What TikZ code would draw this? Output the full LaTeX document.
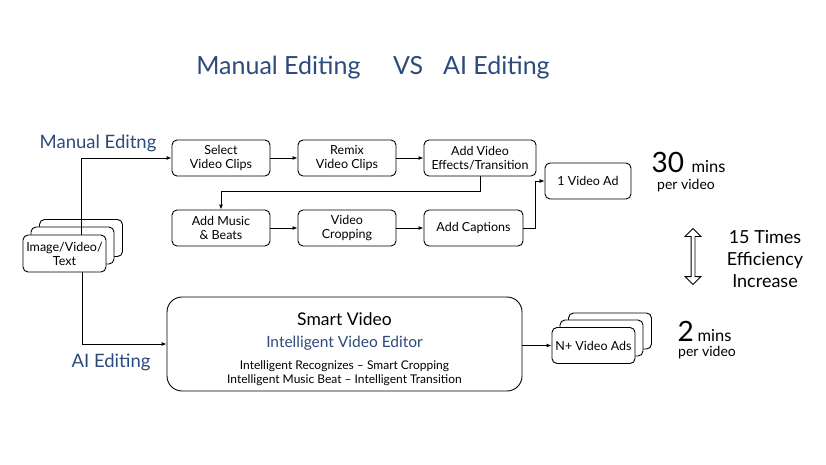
\documentclass[tikz,border=0pt]{standalone}
\usepackage{fontspec}
\setmainfont{Lato}
\usetikzlibrary{arrows.meta,shapes.arrows}
\definecolor{navy}{HTML}{2C4A7C}
\tikzset{
 box/.style={draw,rounded corners=5pt,line width=0.9pt,fill=white,align=center,font=\fontsize{12.5}{14}\selectfont,inner sep=0pt},
 conn/.style={line width=0.9pt,-{Latex[length=5pt,width=4pt]}},
 lbl/.style={text=navy,font=\fontsize{18.5}{20}\selectfont},
}
\begin{document}
\begin{tikzpicture}[x=1pt,y=-1pt]
\useasboundingbox (0,0) rectangle (826,465);
\node[text=navy,font=\fontsize{25}{28}\selectfont] (title) at (373,68) {Manual Editing\hspace{1.3em}VS\hspace{0.8em}AI Editing};
\node[lbl] (man) at (98,143) {Manual Editng};
\node[lbl] (ai) at (111,362) {AI Editing};
% row 1
\node[box,minimum width=98,minimum height=36] (sel) at (221,158) {Select\\Video Clips};
\node[box,minimum width=98,minimum height=36] (rem) at (347,158) {Remix\\Video Clips};
\node[box,minimum width=112,minimum height=36] (eff) at (480,158) {Add Video\\Effects/Transition};
% row 2
\node[box,minimum width=98,minimum height=36] (mus) at (221,228) {Add Music\\\& Beats};
\node[box,minimum width=98,minimum height=36] (crop) at (347,228) {Video\\Cropping};
\node[box,minimum width=99,minimum height=36] (cap) at (473.5,228) {Add Captions};
\node[box,minimum width=86,minimum height=36] (ad) at (588,181) {1 Video Ad};
% input stack
\node[box,minimum width=83,minimum height=37] (in3) at (81,238) {};
\node[box,minimum width=83,minimum height=37] (in2) at (72.5,245.5) {};
\node[box,minimum width=83,minimum height=37] (in) at (64.5,253.5) {Image/Video/\\Text};
% smart
\node[box,rounded corners=15pt,minimum width=355,minimum height=94] (smart) at (344.5,344) {};
\node[font=\fontsize{17.5}{20}\selectfont] (sv) at (344.5,319) {Smart Video};
\node[text=navy,font=\fontsize{15.5}{18}\selectfont] (ive) at (344.5,343) {Intelligent Video Editor};
\node[align=center,font=\fontsize{12}{14}\selectfont] (feat) at (344.5,373) {Intelligent Recognizes -- Smart Cropping\\Intelligent Music Beat -- Intelligent Transition};
% output stack
\node[box,minimum width=83,minimum height=36] (out3) at (610,331) {};
\node[box,minimum width=83,minimum height=36] (out2) at (601.5,338) {};
\node[box,minimum width=83,minimum height=36] (out) at (593.5,345.5) {N+ Video Ads};
% connectors
\draw[conn] (in.north) ++(16.5,0) coordinate (a1) |- (sel.west);
\draw[conn] (sel) -- (rem);
\draw[conn] (rem) -- (eff);
\draw[conn] (eff.south) -- ++(0,15) -| (mus.north);
\draw[conn] (mus) -- (crop);
\draw[conn] (crop) -- (cap);
\draw[conn,line width=0.6pt] (cap.east) -- ++(12,0) |- (ad.west);
\draw[conn] (in.south) ++(17.5,0) coordinate (a2) |- (smart.west);
\draw[conn] (smart.east |- out) -- (out.west);
% right texts
\node[anchor=base west,font=\fontsize{28}{30}\selectfont] (t30) at (648,172) {30};
\node[anchor=base west,font=\fontsize{16.5}{18}\selectfont] (m30) at (688,172) {mins};
\node[font=\fontsize{14}{16}\selectfont] (p30) at (686,186) {per video};
\node[anchor=base west,font=\fontsize{28}{30}\selectfont] (t2) at (674,341) {2};
\node[anchor=base west,font=\fontsize{16.5}{18}\selectfont] (m2) at (694,341) {mins};
\node[font=\fontsize{14}{16}\selectfont] (p2) at (707,353) {per video};
\node[draw,line width=0.8pt,double arrow,double arrow head extend=6pt,minimum width=14,minimum height=56,shape border rotate=90,inner sep=1.5pt] (dbl) at (693,256.5) {};
\node[align=center,font=\fontsize{18}{22}\selectfont] (eff15) at (765,259) {15 Times\\Efficiency\\Increase};
\end{tikzpicture}
\end{document}
